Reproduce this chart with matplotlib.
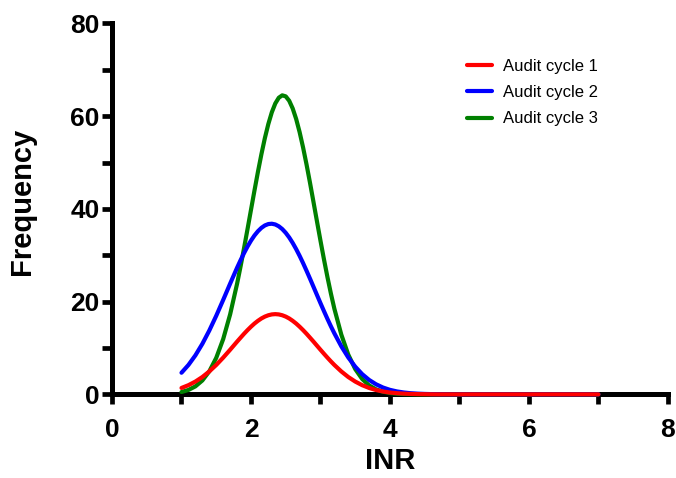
import matplotlib
matplotlib.use("Agg")
import matplotlib.pyplot as plt

# INR values (x) sampled along the curves
inr = [1.0, 1.1, 1.2, 1.3, 1.4, 1.5, 1.6, 1.7, 1.8,
       1.85, 1.9, 1.95, 2.0, 2.05, 2.1, 2.15, 2.2, 2.25, 2.3, 2.35,
       2.4, 2.45, 2.5, 2.55, 2.6, 2.65, 2.7, 2.75, 2.8, 2.85,
       2.9, 2.95, 3.0, 3.05, 3.1, 3.15, 3.2,
       3.3, 3.4, 3.5, 3.6, 3.7, 3.8, 3.9, 4.0, 4.1, 4.2,
       4.3, 4.4, 4.5, 4.6, 4.7, 4.8,
       5.0, 5.5, 6.0, 6.5, 7.0]

cycle1 = [1.38, 1.98, 2.76, 3.74, 4.94, 6.34, 7.92, 9.62, 11.37,
          12.22, 13.06, 13.85, 14.59, 15.27, 15.86, 16.37, 16.77, 17.06, 17.24, 17.30,
          17.24, 17.06, 16.77, 16.37, 15.86, 15.27, 14.59, 13.85, 13.06, 12.22,
          11.37, 10.49, 9.62, 8.76, 7.92, 7.11, 6.34,
          4.94, 3.74, 2.76, 1.98, 1.38, 0.93, 0.61, 0.39, 0.25, 0.15,
          0.09, 0.05, 0.03, 0.01, 0.0, 0.0,
          0.0, 0.0, 0.0, 0.0, 0.0]

cycle2 = [4.66, 6.34, 8.41, 10.89, 13.76, 16.95, 20.37, 23.88, 27.31,
          28.93, 30.46, 31.88, 33.15, 34.26, 35.18, 35.91, 36.43, 36.73, 36.80, 36.64,
          36.25, 35.65, 34.84, 33.84, 32.66, 31.33, 29.87, 28.30, 26.64, 24.93,
          23.18, 21.42, 19.67, 17.96, 16.29, 14.68, 13.16,
          10.36, 7.96, 5.97, 4.36, 3.11, 2.17, 1.47, 0.97, 0.63, 0.40,
          0.24, 0.15, 0.09, 0.05, 0.03, 0.01,
          0.0, 0.0, 0.0, 0.0, 0.0]

cycle3 = [0.50, 0.95, 1.72, 2.99, 4.96, 7.87, 11.92, 17.25, 23.86,
          27.58, 31.52, 35.62, 39.79, 43.94, 47.98, 51.79, 55.28, 58.32, 60.84, 62.74,
          63.97, 64.49, 64.27, 63.32, 61.67, 59.40, 56.55, 53.23, 49.54, 45.58,
          41.45, 37.28, 33.15, 29.14, 25.32, 21.75, 18.47,
          12.88, 8.58, 5.46, 3.32, 1.93, 1.07, 0.57, 0.29, 0.14, 0.06,
          0.03, 0.01, 0.0, 0.0, 0.0, 0.0,
          0.0, 0.0, 0.0, 0.0, 0.0]

labels = ["Audit cycle 1", "Audit cycle 2", "Audit cycle 3"]
colors = ["#FF0000", "#0000FF", "#008000"]

x_major = [0, 2, 4, 6, 8]
x_minor = [1, 3, 5, 7]
y_major = [0, 20, 40, 60, 80]
y_minor = [10, 30, 50, 70]

regular = ["Liberation Sans", "DejaVu Sans"]

fig = plt.figure(figsize=(6.76, 4.78), dpi=100)
ax = fig.add_axes([0.1657, 0.175, 0.8223, 0.776])

series = [cycle1, cycle2, cycle3]
zs = [5, 4, 3]
handles = []
for vals, lab, col, z in zip(series, labels, colors, zs):
    h, = ax.plot(inr, vals, color=col, lw=3.0, label=lab, zorder=z,
                 clip_on=False, solid_capstyle="round", solid_joinstyle="round")
    handles.append(h)

ax.set_xlim(0, 8)
ax.set_ylim(0, 80)

for s in ["top", "right"]:
    ax.spines[s].set_visible(False)
for s in ["left", "bottom"]:
    ax.spines[s].set_linewidth(3.6)
    ax.spines[s].set_color("black")
    ax.spines[s].set_capstyle("projecting")

ax.set_xticks(x_major)
ax.set_xticks(x_minor, minor=True)
ax.set_yticks(y_major)
ax.set_yticks(y_minor, minor=True)
ax.tick_params(which="both", direction="out", width=3.4, length=7, color="black")
ax.tick_params(axis="x", which="major", pad=10)
ax.tick_params(axis="y", which="major", pad=2)

for lab in ax.get_xticklabels() + ax.get_yticklabels():
    lab.set_fontfamily(regular)
    lab.set_fontweight("bold")
    lab.set_fontsize(19)

ax.set_xlabel("INR", fontfamily=regular, fontweight="bold", fontsize=21)
ax.set_ylabel("Frequency", fontfamily=regular, fontweight="bold", fontsize=21)
ax.xaxis.set_label_coords(0.5, -0.142)
ax.yaxis.set_label_coords(-0.137, 0.52)

leg = ax.legend(handles=handles, labels=labels, loc="upper left",
                bbox_to_anchor=(0.691, 0.877), bbox_transform=fig.transFigure,
                frameon=False, borderaxespad=0, borderpad=0,
                handlelength=1.5, handletextpad=0.65, labelspacing=0.68,
                prop={"family": regular, "size": 12})

fig.savefig("out.png", dpi=100)
